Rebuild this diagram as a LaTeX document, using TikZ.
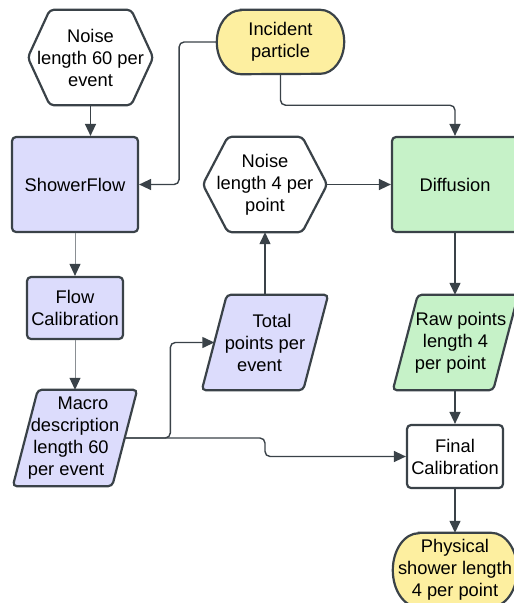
\documentclass[tikz,border=0pt]{standalone}
\usepackage{fontspec}
\setmainfont{Liberation Sans}
\usetikzlibrary{arrows.meta,backgrounds,calc}
\definecolor{bord}{HTML}{3A4248}
\definecolor{lav}{HTML}{DCDCFC}
\definecolor{grn}{HTML}{C6F2C8}
\definecolor{yel}{HTML}{FDEFA0}
\definecolor{lgray}{HTML}{8A8F93}
\tikzset{
  lbl/.style={align=center, inner sep=0pt, font=\fontsize{18.3}{22}\selectfont, text=black},
  box/.style={lbl, draw=bord, line width=2.2pt, rounded corners=4pt},
  outl/.style={draw=bord, line width=2.2pt, rounded corners=4pt},
  conn/.style={draw=bord, line width=1.4pt, rounded corners=5pt, -{Triangle[length=12pt,width=11pt]}},
  gconn/.style={draw=lgray, line width=1pt, -{Triangle[length=12pt,width=11pt,color=bord]}},
}
\begin{document}
\begin{tikzpicture}[x=1pt,y=-1pt]
\useasboundingbox (0,0) rectangle (514,603);
% rectangular boxes
\node[box, fill=lav, minimum width=126pt, minimum height=95pt] (sf) at (75,184.5) {ShowerFlow};
\node[box, fill=grn, minimum width=126pt, minimum height=95pt] (diff) at (455,184.5) {Diffusion};
\node[box, fill=lav, minimum width=96pt, minimum height=62pt] (fc) at (75,308) {Flow\\Calibration};
\node[box, fill=white, minimum width=96pt, minimum height=63pt] (fin) at (455,456.5) {Final\\Calibration};
% other shapes (outlines drawn on background)
\node[lbl, minimum width=125pt, minimum height=95pt] (n60) at (90.5,57.5) {Noise\\length 60 per\\event};
\node[lbl, minimum width=124pt, minimum height=95pt] (n4) at (265,184.5) {Noise\\length 4 per\\point};
\node[lbl, minimum width=127pt, minimum height=64pt] (inc) at (280.5,42) {Incident\\particle};
\node[lbl, minimum width=124pt, minimum height=74pt] (phy) at (455,570) {Physical\\shower length\\4 per point};
\node[lbl, minimum width=124pt, minimum height=96pt] (mac) at (75,438) {\hspace*{16pt}Macro\\description\\length 60\hspace*{8pt}\mbox{}\\per event\hspace*{18pt}\mbox{}};
\node[lbl, minimum width=126pt, minimum height=95pt] (tot) at (265,342.5) {\hspace*{14pt}Total\\points per\\event\hspace*{11pt}\mbox{}};
\node[lbl, minimum width=125pt, minimum height=95pt] (raw) at (455.5,342.5) {\hspace*{11pt}Raw points\\length 4\\per point\hspace*{10pt}\mbox{}};
\begin{scope}[on background layer]
  \draw[outl, fill=white] (n60.west) -- ([xshift=22pt]n60.north west) -- ([xshift=-22pt]n60.north east) -- (n60.east) -- ([xshift=-22pt]n60.south east) -- ([xshift=22pt]n60.south west) -- cycle;
  \draw[outl, fill=white] (n4.west) -- ([xshift=25pt]n4.north west) -- ([xshift=-25pt]n4.north east) -- (n4.east) -- ([xshift=-25pt]n4.south east) -- ([xshift=25pt]n4.south west) -- cycle;
  \draw[outl, fill=lav] (mac.south west) -- ([xshift=25pt]mac.north west) -- (mac.north east) -- ([xshift=-25pt]mac.south east) -- cycle;
  \draw[outl, fill=lav] (tot.south west) -- ([xshift=25pt]tot.north west) -- (tot.north east) -- ([xshift=-25pt]tot.south east) -- cycle;
  \draw[outl, fill=grn] (raw.south west) -- ([xshift=25pt]raw.north west) -- (raw.north east) -- ([xshift=-25pt]raw.south east) -- cycle;
  \draw[outl, sharp corners, fill=yel] ([xshift=24pt]inc.north west) -- ([xshift=-24pt]inc.north east) arc[start angle=90,end angle=-90,x radius=24pt,y radius=32pt] -- ([xshift=24pt]inc.south west) arc[start angle=270,end angle=90,x radius=24pt,y radius=32pt] -- cycle;
  \draw[outl, sharp corners, fill=yel] ([xshift=26pt]phy.north west) -- ([xshift=-26pt]phy.north east) arc[start angle=90,end angle=-90,x radius=26pt,y radius=37pt] -- ([xshift=26pt]phy.south west) arc[start angle=270,end angle=90,x radius=26pt,y radius=37pt] -- cycle;
\end{scope}
% connectors
\coordinate (macR) at ([xshift=-12.5pt]mac.east);
\coordinate (totL) at ([xshift=12.5pt]tot.west);
\draw[conn] (n60.south) -- (n60.south |- sf.north);
\draw[conn] (inc.west) -| ([xshift=40pt]sf.east) -- (sf.east);
\draw[conn] (inc.south) -- ++(0,31) -| (diff.north);
\draw[conn] (n4.east) -- (diff.west);
\draw[conn] (tot.north) -- (n4.south);
\draw[gconn] (sf.south) -- (fc.north);
\draw[gconn] (fc.south) -- (mac.north);
\draw[conn] (macR) -| ([xshift=-44pt]totL) -- (totL);
\draw[conn] (macR) -- (macR -| tot.center) -- (tot.center |- fin.west) -- (fin.west);
\draw[conn] (diff.south) -- (diff.south |- raw.north);
\draw[conn] (fin.north |- raw.south) -- (fin.north);
\draw[conn] (fin.south) -- (phy.north);
\end{tikzpicture}
\end{document}
